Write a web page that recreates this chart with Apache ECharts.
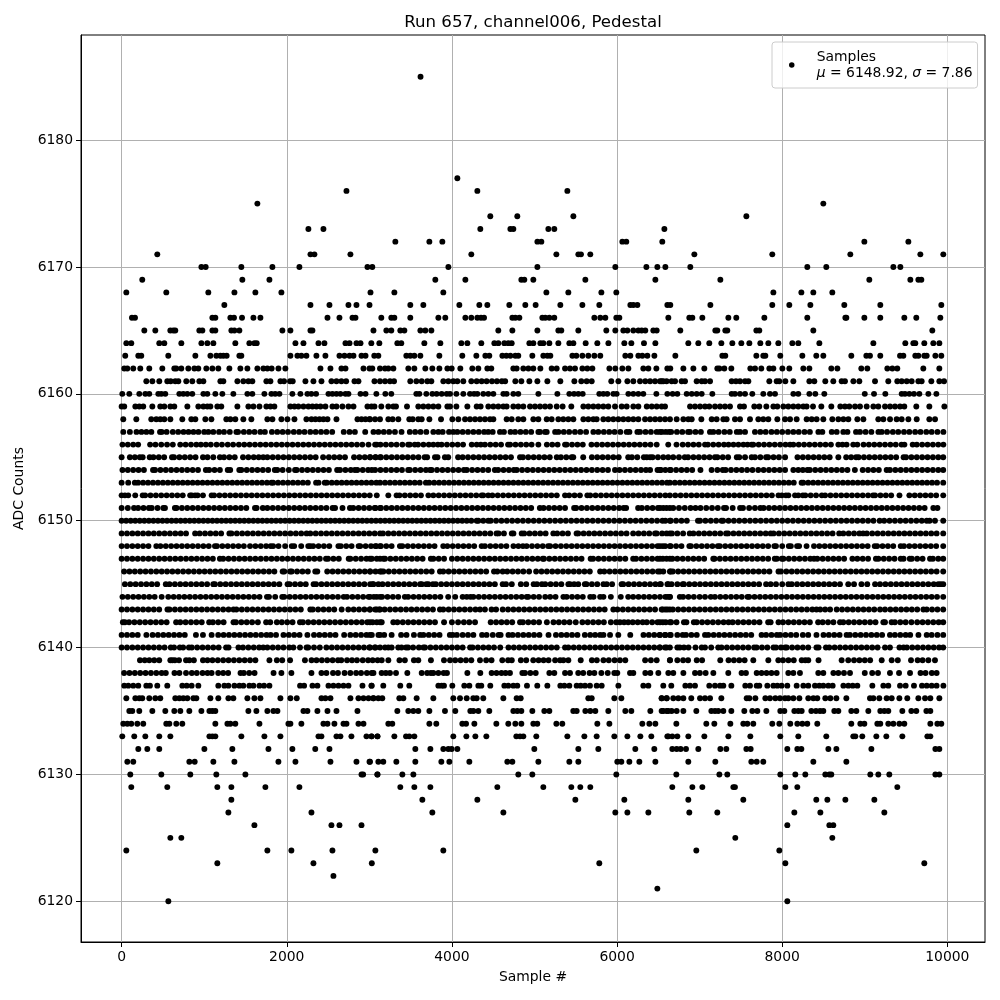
<!DOCTYPE html>
<html><head><meta charset="utf-8"><style>html,body{margin:0;padding:0;background:#fff}#c{width:1000px;height:1000px}</style>
<script src="https://cdn.jsdelivr.net/npm/echarts@6/dist/echarts.min.js"></script></head><body><div id="c"></div><script>
const xTicks=[0,2000,4000,6000,8000,10000];
const yTicks=[6120,6130,6140,6150,6160,6170,6180];
const r6185=[3620];
const r6177=[4066];
const r6176=[2723,4308,5398];
const r6175=[1644,8498];
const r6174=[4465,4792,5471,7566];
const r6173=[2262,2444,4344,4708,4744,5168,5240,6573];
const r6172=[3315,3727,3884,5035,5083,6064,6112,6548,8995,9528];
const r6171=[432,2287,2335,2771,4235,5265,5531,5563,5676,6936,7880,8825,9673,9951];
const r6170=[966,1018,1450,1826,2153,2977,3036,3957,5035,5979,6355,6488,6585,6887,8304,8534,9346,9431];
const r6169=[250,1462,1790,3799,4163,4841,4877,4986,5616,6464,7251,9055,9552,9649,9685];
const r6168=[57,541,1050,1366,1620,1935,3014,3303,3896,5144,5410,5810,5991,7893,8232,8377,8607];
const r6167=[1244,2287,2517,2747,2844,3002,3496,3654,4090,4332,4429,4695,4889,5014,5313,5580,5785,6161,6197,6246,6609,6645,7130,7880,8086,8341,8752,9188,9927];
const r6166=[125,162,1099,1135,1317,1361,1458,1596,1681,2493,2638,2796,2832,3145,3266,3303,3496,3836,3920,4163,4235,4308,4352,4389,4732,4768,4817,5095,5131,5180,5240,5725,5797,5858,5991,6028,6621,6875,6912,7033,7348,7444,7784,8304,8765,8777,8995,9188,9479,9624,9915];
const r6165=[275,408,590,626,650,941,978,1099,1135,1329,1366,1426,1947,2044,2287,2311,3050,3206,3266,3375,3424,3618,3678,3751,4562,4732,5035,5289,5325,5531,5870,5979,6076,6125,6197,6258,6298,6342,6439,6480,6766,7190,7214,7311,7335,7687,7723,8377,9818];
const r6164=[57,117,456,517,723,966,1038,1111,1377,1547,1608,1636,2105,2202,2384,2456,2711,2760,2844,2893,3024,3121,3339,3387,3666,3860,4114,4187,4356,4514,4562,4635,4683,4724,4938,4986,5071,5107,5180,5289,5422,5471,5620,5761,5895,6088,6173,6326,6464,6863,6984,7117,7263,7396,7505,7602,7735,7832,7953,8123,8195,8450,9104,9491,9588,9612,9721,9830,9903];
const r6163=[44,202,238,565,893,1075,1147,1196,1232,1272,1426,1450,2044,2129,2177,2238,2359,2468,2638,2699,2760,2808,2905,2954,3060,3109,3448,3496,3545,3618,3848,4126,4296,4405,4453,4611,4659,4708,4768,4804,4974,5107,5156,5192,5459,5507,5580,5652,5725,5797,6100,6161,6258,6306,6367,6452,6706,7275,7311,7687,7771,7796,7977,8244,8413,8498,8837,9019,9063,9188,9427,9467,9612,9649,9721,9750,9855,9927];
const r6162=[32,69,141,226,335,493,638,662,723,808,881,929,1026,1099,1171,1305,1438,1523,1644,1717,1765,1817,1899,1983,2408,2529,2662,2711,2929,3002,3036,3129,3190,3230,3291,3472,3545,3678,3763,3848,3945,3997,4102,4247,4320,4429,4477,4744,4784,4865,4926,4986,5071,5208,5269,5370,5430,5491,5580,5640,5701,5907,5979,6064,6137,6318,6379,6476,6609,6645,6803,6924,7057,7214,7239,7299,7384,7614,7671,7747,7844,7893,8002,8086,8256,8329,8595,8668,8958,9031,9273,9334,9394,9709,9903];
const r6161=[299,372,456,553,594,650,687,783,856,941,990,1196,1232,1402,1474,1535,1583,1753,1802,1923,1967,2040,2072,2226,2323,2420,2541,2602,2662,2719,2820,2868,3062,3129,3190,3250,3299,3496,3569,3634,3702,3751,3896,3957,4017,4066,4138,4235,4300,4360,4420,4485,4545,4605,4645,4768,4841,4938,5035,5156,5313,5483,5567,5632,5693,5930,6016,6125,6197,6278,6342,6400,6460,6540,6600,6520,6560,6661,6702,6782,6823,6964,7025,7065,7126,7388,7440,7489,7550,7590,7844,7933,7965,8038,8135,8329,8389,8522,8619,8720,8760,8862,8934,9124,9285,9394,9447,9508,9568,9649,9689,9806,9903,9960];
const r6160=[8,93,214,287,335,444,481,529,699,747,796,856,990,1038,1135,1220,1353,1523,1583,1729,1814,1860,1911,2068,2165,2250,2298,2355,2505,2553,2602,2650,2711,2747,2893,2954,3085,3194,3266,3569,3606,3690,3763,3815,3876,3937,3977,4054,4138,4219,4268,4308,4380,4441,4502,4623,4663,4744,4804,5047,5277,5422,5479,5531,5584,5785,5834,5882,5955,5995,6137,6197,6258,6318,6476,6609,6673,6730,6843,6904,6964,7025,7154,7388,7428,7489,7550,7638,7771,7852,7913,8135,8195,8329,8401,8510,9000,9112,9249,9447,9487,9540,9596,9661,9770,9867];
const r6159=[0,32,166,214,262,372,468,517,590,638,796,929,990,1038,1075,1159,1207,1402,1535,1596,1669,1753,1802,1850,2044,2093,2141,2202,2262,2311,2359,2408,2468,2553,2602,2674,2747,2808,2977,3026,3062,3145,3230,3291,3323,3456,3593,3654,3715,3775,3836,3945,3977,4054,4187,4300,4348,4441,4502,4562,4623,4663,4744,4804,4865,4946,5006,5067,5128,5188,5269,5341,5446,5592,5652,5713,5773,5834,5894,5975,6056,6117,6197,6258,6360,6420,6480,6540,6581,6884,6944,7005,7065,7117,7186,7247,7307,7368,7489,7537,7662,7723,7808,7893,7941,8014,8074,8135,8195,8256,8296,8373,8474,8595,8704,8760,8813,8882,8942,9023,9104,9164,9245,9306,9366,9427,9479,9624,9782,9964];
const r6158=[20,178,359,420,468,517,590,735,844,893,1014,1087,1268,1317,1377,1474,1571,1765,1826,1935,2008,2093,2238,2299,2347,2396,2444,2493,2602,2856,2905,2953,3002,3008,3069,3129,3230,3282,3351,3484,3525,3593,3634,3727,3868,4005,4078,4159,4219,4280,4340,4400,4461,4502,4663,4724,4804,4865,4986,5047,5148,5208,5289,5349,5410,5471,5592,5652,5713,5753,5834,5894,5955,6016,6076,6137,6197,6258,6339,6400,6461,6520,6581,6641,6722,6803,6863,6904,7021,7146,7206,7287,7327,7428,7489,7610,7711,7771,7832,7941,8034,8095,8175,8296,8357,8417,8498,8607,8680,8741,8801,8910,8983,9164,9225,9306,9386,9447,9528,9629,9782,9851];
const r6157=[20,100,180,240,300,360,465,485,545,620,685,750,810,870,930,1000,1050,1110,1180,1240,1310,1390,1410,1480,1545,1610,1680,1735,1820,1885,1950,2015,2085,2150,2215,2285,2350,2415,2480,2550,2690,2760,2825,2950,3050,3110,3175,3240,3310,3390,3490,3555,3620,3690,3775,3836,3888,3965,4017,4066,4130,4195,4260,4325,4390,4440,4494,4582,4630,4710,4765,4830,4895,4960,5047,5067,5128,5148,5250,5290,5355,5420,5490,5555,5625,5713,5773,5840,5905,5970,6040,6117,6150,6246,6278,6345,6410,6480,6545,6630,6520,6590,6655,6725,6790,6860,6883,6950,7015,7125,7166,7230,7300,7365,7450,7490,7550,7670,7735,7800,7870,7935,8000,8070,8135,8200,8270,8335,8438,8486,8600,8660,8740,8790,8894,8942,9010,9080,9165,9205,9270,9340,9405,9475,9540,9610,9675,9745,9810,9880,9952];
const r6156=[10,75,140,200,345,410,480,550,620,710,775,840,905,960,1020,1080,1150,1215,1285,1350,1420,1485,1550,1615,1680,1745,1810,1875,1940,2005,2070,2135,2200,2265,2330,2395,2460,2525,2590,2655,2720,2785,2850,2915,2990,3090,3070,3135,3200,3265,3330,3400,3470,3490,3550,3590,3655,3720,3775,3830,3875,3940,4005,4070,4135,4240,4300,4350,4400,4465,4530,4595,4680,4705,4770,4835,4900,4965,5047,5150,5215,5280,5370,5390,5455,5520,5585,5690,5755,5820,5885,5950,6015,6080,6145,6210,6275,6340,6405,6480,6620,6720,6795,6860,6925,6990,7065,7100,7165,7230,7295,7350,7410,7470,7530,7580,7630,7650,7715,7780,7845,7910,7975,8040,8095,8135,8200,8265,8330,8395,8460,8525,8590,8680,8730,8780,8860,8910,8985,9050,9115,9180,9245,9310,9375,9445,9480,9580,9630,9695,9760,9825,9890,9952];
const r6155=[0,100,160,220,255,340,385,450,515,610,635,700,765,830,895,985,1040,1110,1190,1240,1305,1370,1470,1535,1600,1660,1715,1765,1830,1895,1960,2025,2090,2155,2220,2285,2350,2440,2510,2575,2640,2705,2815,2880,2945,3010,3075,3130,3008,3075,3140,3205,3270,3335,3400,3465,3530,3595,3670,3700,3795,3825,3915,3955,4075,4130,4195,4260,4325,4390,4455,4520,4585,4650,4715,4825,4860,4925,4990,5055,5120,5185,5270,5320,5385,5450,5470,5590,5695,5760,5825,5890,5955,6020,6135,6180,6245,6325,6360,6400,6430,6495,6560,6620,6680,6750,6820,6860,6925,6990,7055,7120,7185,7215,7280,7345,7450,7480,7550,7630,7670,7735,7805,7830,7895,7960,8035,8185,8250,8315,8380,8445,8510,8575,8680,8775,8835,8895,8925,8990,9055,9120,9185,9250,9315,9380,9470,9500,9565,9630,9695,9760,9825,9890,9950];
const r6154=[10,75,140,205,270,380,405,470,535,600,665,730,795,860,925,1020,1060,1125,1190,1285,1315,1425,1450,1515,1580,1645,1710,1775,1855,1885,1950,2025,2100,2120,2185,2250,2315,2380,2445,2510,2610,2645,2710,2775,2825,2855,2920,2985,3030,3070,3135,3200,3265,3330,3395,3470,3490,3555,3620,3685,3735,3755,3820,3885,3950,4015,4080,4145,4180,4245,4310,4375,4440,4520,4560,4625,4690,4750,4785,4850,4915,4980,5045,5110,5175,5240,5305,5370,5435,5500,5565,5630,5695,5760,5825,5890,5975,6030,6095,6160,6225,6290,6350,6400,6490,6530,6640,6520,6585,6650,6715,6780,6845,6910,7010,7145,7215,7280,7315,7380,7445,7510,7575,7640,7710,7775,7840,7905,7970,8035,8135,8195,8250,8305,8335,8400,8465,8530,8595,8660,8725,8790,8880,8975,9040,9105,9170,9265,9305,9370,9435,9500,9565,9630,9695,9760,9825,9890,9950];
const r6153=[0,80,160,200,260,320,380,440,500,560,620,680,740,800,860,920,980,1040,1100,1160,1220,1280,1340,1400,1460,1520,1580,1640,1700,1760,1815,1835,1895,1955,2015,2075,2135,2195,2255,2355,2385,2460,2485,2545,2605,2665,2725,2785,2845,2905,2965,3025,3085,3130,3190,3250,3310,3370,3430,3490,3550,3610,3685,3725,3785,3845,3905,3965,4025,4085,4145,4205,4265,4325,4385,4445,4505,4565,4625,4685,4745,4805,4865,4925,4985,5045,5105,5165,5225,5285,5345,5405,5465,5525,5585,5645,5705,5765,5825,5885,5945,6005,6065,6125,6185,6245,6305,6365,6425,6485,6545,6605,6640,6700,6760,6820,6880,6940,7000,7060,7120,7180,7240,7300,7360,7420,7480,7540,7600,7660,7720,7780,7840,7900,7960,8020,8080,8140,8235,8255,8315,8375,8435,8495,8555,8615,8675,8735,8795,8855,8915,8975,9035,9095,9155,9215,9275,9335,9395,9455,9515,9575,9635,9695,9755,9815,9875,9950];
const r6152=[0,40,80,165,255,285,350,415,480,545,610,675,740,830,850,890,920,985,1090,1120,1185,1250,1315,1380,1445,1510,1575,1640,1705,1770,1835,1900,1965,2030,2095,2160,2225,2290,2355,2420,2485,2550,2615,2680,2745,2810,2875,2940,3005,3090,3230,3330,3365,3430,3495,3560,3625,3715,3775,3840,3905,3970,4035,4100,4165,4230,4295,4360,4380,4440,4490,4555,4620,4685,4750,4815,4880,4945,5010,5075,5140,5205,5270,5370,5420,5485,5550,5640,5675,5740,5805,5870,5935,6000,6065,6130,6195,6260,6325,6390,6455,6520,6585,6640,6705,6770,6835,6900,6965,7030,7095,7160,7225,7290,7355,7420,7485,7550,7615,7680,7745,7810,7875,7955,7995,8045,8075,8155,8195,8250,8280,8345,8410,8480,8520,8585,8650,8715,8780,8845,8910,8975,9040,9100,9125,9190,9255,9320,9420,9540,9605,9670,9735,9800,9865,9950];
const r6151=[0,75,150,200,265,330,365,435,505,525,645,665,730,795,860,925,990,1055,1120,1185,1250,1315,1380,1445,1510,1615,1635,1710,1765,1830,1895,1960,2025,2090,2155,2220,2285,2350,2415,2480,2555,2585,2675,2765,2805,2870,2935,3000,3065,3130,3075,3140,3205,3270,3335,3400,3465,3530,3595,3660,3725,3790,3855,3920,3985,4050,4115,4180,4245,4310,4375,4440,4505,4570,4635,4700,4765,4830,4895,4960,5065,5110,5175,5240,5305,5370,5480,5505,5570,5635,5700,5765,5830,5895,5960,6025,6080,6110,6255,6300,6365,6430,6495,6560,6640,6520,6600,6680,6750,6820,6890,6950,7010,7080,7150,7220,7295,7320,7400,7490,7525,7600,7670,7735,7775,7840,7905,7970,8035,8100,8165,8230,8295,8360,8425,8490,8555,8620,8685,8750,8815,8880,8945,9010,9075,9140,9205,9270,9335,9400,9465,9530,9595,9660,9725,9830,9880];
const r6150=[0,55,110,165,220,275,330,385,440,495,550,605,660,715,770,825,880,935,990,1045,1100,1155,1210,1265,1320,1375,1430,1485,1540,1595,1650,1705,1760,1815,1870,1925,1980,2035,2090,2145,2200,2255,2310,2365,2420,2475,2530,2585,2640,2695,2750,2805,2860,2915,2970,3025,3080,3135,3190,3245,3300,3355,3410,3465,3520,3575,3630,3685,3740,3795,3850,3905,3960,4015,4070,4125,4180,4235,4300,4320,4380,4440,4470,4535,4600,4665,4730,4795,4860,4925,4990,5055,5120,5185,5250,5315,5380,5445,5510,5575,5640,5705,5770,5835,5900,5965,6030,6095,6160,6225,6290,6355,6420,6485,6550,6640,6585,6650,6715,6780,6845,6980,7005,7070,7135,7200,7265,7285,7350,7415,7480,7545,7610,7675,7740,7805,7870,7935,8000,8065,8130,8195,8260,8325,8390,8455,8520,8585,8650,8715,8780,8845,8910,8975,9040,9105,9180,9235,9300,9365,9430,9495,9560,9625,9690,9750,9785,9850,9950];
const r6149=[0,65,130,195,260,325,390,455,520,585,650,715,780,890,945,1010,1075,1140,1205,1305,1330,1395,1460,1525,1590,1655,1720,1785,1850,1915,1980,2045,2110,2175,2240,2285,2350,2415,2480,2545,2610,2675,2740,2805,2870,2935,3000,3065,3130,3165,3230,3295,3360,3425,3490,3555,3620,3685,3750,3815,3880,3945,4010,4075,4140,4205,4270,4335,4400,4465,4540,4565,4630,4725,4745,4845,4875,4940,5005,5070,5135,5228,5275,5340,5405,5510,5530,5595,5660,5725,5790,5855,5920,5985,6050,6115,6195,6260,6325,6390,6460,6480,6545,6640,6600,6665,6730,6800,6880,6925,6990,7055,7120,7185,7250,7320,7345,7410,7475,7540,7605,7670,7735,7800,7860,7895,7960,8025,8090,8155,8220,8285,8350,8415,8480,8545,8610,8690,8740,8805,8870,8935,8980,9025,9090,9155,9220,9285,9350,9415,9480,9545,9610,9675,9740,9805,9870,9950];
const r6148=[0,65,130,195,260,325,420,470,535,600,665,730,795,860,925,990,1055,1130,1155,1220,1285,1350,1415,1480,1555,1620,1685,1750,1805,1835,1900,1980,2060,2090,2175,2260,2285,2320,2385,2450,2515,2625,2655,2720,2785,2870,2890,2955,3020,3085,3130,3073,3140,3205,3270,3370,3400,3465,3530,3595,3660,3725,3790,3895,3945,4010,4075,4140,4205,4270,4360,4400,4465,4530,4595,4660,4745,4805,4860,4905,4970,5035,5100,5165,5190,5255,5320,5385,5450,5515,5580,5645,5710,5775,5840,5905,5970,6035,6100,6165,6230,6295,6360,6425,6490,6555,6640,6520,6585,6650,6715,6780,6875,6895,6960,7025,7090,7155,7220,7245,7310,7375,7440,7505,7570,7635,7700,7765,7830,7905,7925,8000,8080,8105,8180,8205,8295,8385,8450,8515,8580,8645,8710,8775,8840,8905,8970,9035,9120,9150,9215,9280,9345,9435,9475,9540,9605,9670,9735,9800,9865,9950];
const r6147=[0,65,130,195,260,325,390,455,520,585,650,715,780,845,910,975,1040,1105,1190,1230,1295,1360,1425,1490,1555,1620,1685,1750,1815,1880,1945,2010,2075,2140,2205,2270,2335,2400,2475,2500,2565,2630,2750,2770,2835,2900,2965,3030,3130,3008,3090,3170,3190,3255,3320,3385,3450,3515,3580,3645,3745,3775,3840,3905,4000,4065,4130,4195,4260,4325,4390,4455,4520,4585,4650,4715,4780,4845,4910,4975,5040,5100,5115,5180,5245,5310,5375,5440,5505,5570,5680,5710,5775,5840,5905,5970,6035,6100,6195,6230,6295,6360,6425,6490,6555,6640,6520,6600,6670,6730,6795,6860,6925,6990,7055,7165,7180,7245,7310,7375,7440,7505,7570,7635,7700,7765,7830,7910,7935,7995,8015,8080,8145,8210,8275,8340,8385,8425,8490,8555,8620,8685,8750,8850,8910,8975,9040,9135,9165,9230,9295,9360,9435,9470,9545,9570,9635,9700,9790,9825,9890,9950];
const r6146=[30,95,160,225,290,355,420,485,550,615,680,745,810,875,940,1005,1070,1135,1200,1265,1330,1395,1460,1525,1590,1655,1720,1785,1850,1950,1970,2040,2060,2125,2190,2255,2345,2370,2490,2555,2620,2685,2750,2815,2880,2945,3010,3075,3130,3008,3145,3170,3235,3300,3365,3430,3495,3560,3625,3690,3755,3855,3895,3960,4025,4090,4155,4220,4285,4350,4415,4510,4550,4615,4670,4735,4800,4865,4935,5020,5085,5150,5215,5280,5345,5410,5475,5540,5605,5670,5795,5845,5910,5975,6040,6105,6170,6235,6300,6365,6430,6495,6560,6640,6520,6650,6675,6740,6805,6870,6935,7000,7065,7130,7195,7260,7325,7390,7455,7520,7585,7650,7715,7780,7845,7955,7985,8050,8115,8180,8245,8310,8375,8440,8505,8570,8635,8700,8765,8830,8895,8960,9025,9090,9155,9220,9285,9350,9415,9480,9545,9610,9675,9740,9805,9870,9950];
const r6145=[40,105,170,235,300,365,430,535,580,645,710,775,840,905,970,1035,1110,1130,1195,1260,1325,1390,1455,1520,1585,1650,1715,1780,1845,1910,2010,2035,2100,2165,2230,2325,2355,2420,2485,2550,2615,2680,2745,2810,2875,2940,3010,3050,3110,3040,3160,3225,3290,3355,3420,3485,3550,3615,3635,3690,3715,3770,3805,3870,3935,4000,4065,4130,4195,4260,4325,4390,4455,4520,4615,4655,4725,4835,4900,4990,5030,5090,5130,5195,5260,5325,5410,5430,5480,5530,5610,5630,5695,5760,5835,5875,5940,6055,6075,6140,6205,6270,6335,6400,6465,6530,6620,6520,6610,6660,6730,6795,6810,6875,6940,7005,7070,7135,7200,7265,7330,7395,7460,7525,7590,7655,7720,7805,7860,7925,8000,8075,8115,8180,8245,8310,8375,8440,8505,8570,8635,8700,8800,8870,8960,9030,9125,9185,9250,9315,9380,9445,9510,9575,9640,9705,9770,9835,9890,9920,9950];
const r6144=[10,75,140,205,270,335,400,485,565,630,695,760,825,890,955,1020,1085,1150,1215,1280,1345,1410,1475,1540,1605,1670,1760,1785,1860,1945,1970,2035,2100,2165,2230,2295,2360,2425,2490,2555,2620,2690,2730,2795,2860,2925,2990,3055,3130,3008,3090,3155,3220,3285,3350,3430,3470,3535,3600,3665,3730,3795,3860,3955,4040,4130,4180,4225,4260,4325,4390,4455,4520,4585,4650,4715,4780,4845,4905,4925,4990,5055,5130,5190,5255,5350,5390,5455,5520,5585,5675,5715,5795,5835,5925,6045,6135,6195,6260,6325,6390,6455,6520,6585,6640,6610,6640,6760,6800,6865,6930,7000,7065,7135,7185,7250,7315,7380,7445,7510,7580,7600,7665,7730,7795,7860,7925,7990,8055,8120,8185,8250,8315,8380,8445,8510,8575,8640,8705,8770,8835,8900,8965,9030,9095,9160,9225,9290,9355,9420,9485,9550,9615,9680,9745,9810,9875,9950];
const r6143=[0,65,130,195,260,325,390,455,555,580,645,710,775,840,905,970,1035,1100,1165,1230,1295,1355,1390,1455,1520,1585,1650,1715,1780,1845,1910,1975,2040,2105,2170,2285,2315,2380,2445,2510,2575,2665,2745,2810,2875,2940,3005,3070,3130,3008,3090,3120,3185,3250,3315,3380,3445,3510,3575,3640,3705,3770,3855,3895,3960,4025,4090,4155,4220,4285,4340,4400,4480,4535,4615,4680,4745,4810,4875,4940,5005,5070,5135,5200,5265,5330,5395,5460,5525,5590,5655,5720,5785,5850,5955,6005,6070,6135,6200,6265,6330,6395,6460,6555,6585,6640,6540,6610,6675,6740,6805,6870,6935,7000,7065,7130,7195,7260,7325,7390,7455,7520,7585,7650,7715,7780,7845,7910,7975,8040,8105,8170,8235,8300,8365,8415,8460,8520,8580,8660,8725,8790,8855,8920,8985,9050,9115,9185,9245,9310,9375,9440,9505,9570,9635,9710,9750,9815,9880,9950];
const r6142=[15,40,90,155,220,285,350,415,480,545,660,710,775,840,905,970,1060,1105,1170,1235,1355,1385,1450,1515,1580,1650,1750,1800,1880,1940,2005,2070,2160,2195,2260,2325,2390,2455,2520,2585,2650,2715,2780,2845,2910,2975,3040,3130,3008,3090,3150,3290,3340,3405,3470,3535,3600,3665,3730,3795,3905,4000,4075,4145,4210,4280,4470,4535,4600,4665,4730,4825,4860,4925,4990,5055,5150,5230,5295,5360,5425,5500,5580,5645,5710,5775,5840,5925,5990,6035,6085,6135,6190,6250,6310,6360,6425,6490,6555,6640,6520,6590,6655,6720,6810,6840,6930,6965,7030,7095,7160,7225,7290,7350,7400,7465,7530,7595,7660,7725,7830,7860,7955,8010,8075,8140,8205,8270,8335,8435,8490,8555,8620,8700,8740,8805,8870,8935,9000,9065,9130,9225,9245,9325,9365,9430,9495,9565,9635,9700,9765,9830,9895,9950];
const r6141=[0,65,130,195,300,375,440,505,570,635,700,765,900,985,1090,1170,1235,1300,1365,1430,1495,1560,1625,1690,1755,1805,1870,1960,2025,2090,2155,2250,2330,2395,2460,2525,2590,2695,2770,2835,2900,2965,3030,3130,3008,3110,3180,3270,3385,3450,3540,3615,3655,3720,3785,3850,3975,4010,4060,4130,4195,4260,4365,4420,4495,4565,4590,4685,4735,4800,4865,4930,4995,5060,5170,5260,5325,5390,5455,5520,5610,5675,5735,5795,5835,5915,6015,6160,6320,6385,6450,6515,6580,6640,6520,6585,6650,6730,6795,6835,6900,6965,7065,7105,7170,7235,7300,7365,7430,7495,7560,7625,7750,7805,7870,7935,7975,8040,8105,8170,8250,8315,8415,8500,8565,8630,8695,8780,8820,8885,8950,9015,9080,9145,9210,9305,9365,9430,9495,9550,9650,9750,9810,9880,9950];
const r6140=[0,65,130,195,260,325,390,455,520,595,635,705,745,815,850,915,980,1045,1110,1175,1265,1295,1415,1470,1535,1600,1665,1715,1765,1830,1895,1960,2030,2080,2160,2240,2260,2330,2400,2480,2545,2610,2675,2740,2805,2870,2935,3000,3065,3130,3008,3075,3190,3230,3270,3350,3390,3445,3470,3530,3600,3655,3675,3740,3805,3870,3935,4000,4065,4130,4220,4250,4315,4380,4445,4510,4585,4685,4750,4815,4880,4945,5010,5075,5140,5205,5270,5370,5410,5475,5540,5605,5670,5735,5800,5865,5930,5995,6060,6125,6190,6255,6320,6385,6450,6515,6580,6640,6520,6600,6730,6760,6810,6865,6950,7025,7065,7140,7225,7265,7330,7395,7460,7525,7590,7660,7690,7755,7820,7895,7925,7985,8035,8055,8120,8185,8250,8315,8415,8440,8530,8570,8635,8700,8765,8830,8895,8960,9025,9090,9155,9245,9305,9420,9470,9510,9575,9640,9705,9770,9835,9900,9950];
const r6139=[222,280,335,395,455,590,615,645,695,780,820,875,985,1040,1100,1165,1230,1295,1360,1425,1490,1555,1620,1790,1880,1945,2040,2220,2300,2360,2425,2490,2555,2620,2660,2730,2790,2850,2920,2985,3040,3100,3150,3230,3365,3430,3540,3593,3746,3904,3977,4040,4105,4170,4235,4340,4415,4480,4610,4680,4725,4835,4900,4985,5050,5110,5170,5250,5310,5350,5410,5560,5695,5755,5835,5900,5970,6035,6100,6340,6410,6480,6640,6641,6730,6800,6860,6965,7030,7250,7350,7415,7480,7545,7650,7832,7953,8010,8075,8140,8236,8280,8316,8440,8720,8800,8870,8935,9000,9065,9205,9326,9400,9560,9640,9700,9770,9850];
const r6138=[30,95,160,225,290,355,420,485,535,640,700,780,850,910,980,1040,1090,1170,1230,1290,1440,1480,1545,1610,1840,1935,2056,2299,2420,2480,2560,2620,2700,2770,2840,2900,2970,3050,3028,3149,3200,3250,3323,3460,3634,3700,3745,3775,3836,3900,3940,4187,4344,4481,4540,4600,4650,4703,4853,4885,4950,5015,5180,5240,5370,5430,5530,5590,5667,5725,5810,5887,5967,6003,6157,6197,6342,6403,6500,6621,6681,6803,6944,7003,7073,7166,7347,7508,7561,7691,7750,7810,7870,7933,8074,8135,8215,8437,8498,8620,8680,8748,8821,9000,9090,9160,9305,9415,9548,9675,9736,9812,9870];
const r6137=[32,81,141,202,299,343,432,553,735,788,848,929,1171,1244,1293,1366,1426,1474,1547,1596,1669,1725,1790,2161,2210,2311,2371,2505,2565,2626,2687,2747,2917,3026,3028,3169,3375,3484,3836,3876,3904,4005,4150,4211,4320,4356,4465,4635,4683,4744,4792,4909,5034,5156,5313,5362,5422,5511,5559,5612,5672,5753,5814,6016,6318,6379,6560,6657,6827,6883,6944,7117,7186,7247,7287,7384,7553,7610,7691,7723,7820,7893,7941,7993,8062,8175,8256,8316,8397,8450,8498,8559,8611,8741,8801,8854,8910,9092,9225,9285,9427,9495,9596,9693,9750,9810,9870,9952];
const r6136=[57,166,214,250,335,408,468,650,699,747,796,869,905,1075,1171,1293,1353,1523,1608,1681,1923,2044,2121,2420,2468,2529,2771,2868,2929,2990,3050,3048,3109,3157,3363,3412,3573,3775,4017,4098,4179,4259,4300,4380,4623,4784,4833,5652,5693,5967,6052,6540,6601,6540,6601,6681,6742,6803,6899,7005,7065,7126,7263,7570,7602,7675,7796,7852,7917,7973,8034,8074,8135,8208,8316,8377,8425,8522,8583,8656,8777,9063,9104,9176,9265,9326,9419,9515,9649,9730,9794,9903];
const r6135=[93,129,214,372,529,638,711,820,966,1063,1099,1135,1535,1632,1765,1838,1887,2202,2250,2371,2493,2602,2856,3339,3472,3533,3593,3727,3916,4041,4223,4260,4320,4453,4744,4792,4841,4974,5119,5180,5470,5511,5616,5676,5737,5894,6100,6173,6403,6560,6621,6540,6601,6661,6722,6803,6960,7142,7186,7226,7287,7384,7541,7638,7699,7808,7977,8026,8147,8195,8236,8353,8409,8458,8498,8631,8680,8837,8898,9043,9188,9237,9285,9455,9564,9624,9746,9794];
const r6134=[20,69,117,190,262,541,578,662,735,1135,1281,1317,1377,1669,2020,2044,2177,2444,2493,2577,2687,2723,2868,2929,3230,3278,3727,3811,4126,4171,4272,4538,4683,4768,4841,4986,5034,5265,5337,5761,5907,6306,6391,6464,6718,7081,7178,7372,7529,7578,7650,7880,7965,8098,8183,8244,8304,8425,8837,8946,8995,9152,9188,9285,9346,9419,9479,9794,9879,9927];
const r6133=[8,153,287,456,590,1063,1099,1135,1450,1729,1923,2384,2420,2602,2650,2783,2965,3026,3099,3028,3097,3303,3444,3484,3545,4017,4175,4284,4417,4780,4825,4865,5022,5398,5604,5753,5967,6125,6282,6415,6609,6621,6669,6730,6863,7057,7348,7614,7977,8195,8534,8861,8886,8970,9140,9261,9455,9758,9794];
const r6132=[202,311,456,1002,1341,1778,2068,2345,2517,3557,3739,3896,3957,3997,4066,4998,5531,5773,6221,6451,6669,6722,6770,6835,6984,7251,7323,7566,7618,8062,8183,8232,8559,8656,9080,9855,9903];
const r6131=[69,141,820,885,1111,1366,1899,2105,2529,2844,3002,3008,3109,3169,3327,3557,3872,3969,4211,4671,4732,5047,5422,5531,6003,6052,6149,6270,6464,6863,7190,7626,7691,7771,8377,8777];
const r6130=[105,481,832,1147,1499,2905,2925,3099,3097,3400,3533,4804,4974,5991,6718,7239,7335,7977,8159,8280,8522,8571,8595,9067,9164,9297,9855,9903];
const r6129=[117,553,1159,1329,1741,2153,3375,3545,3739,4550,5107,5446,5555,5676,6669,6912,7033,7408,7428,8038,8183,9394];
const r6128=[1329,3642,4308,5495,6088,6863,7529,8413,8547,8765,9116];
const r6127=[1293,2299,3763,4623,5979,6125,6379,6875,7214,8147,8462,9237];
const r6126=[1608,2541,2638,2905,8062,8571,8619];
const r6125=[590,723,7432,8607];
const r6124=[57,1765,2056,2553,3073,3896,6960,7965];
const r6123=[1159,2323,3030,5785,8038,9721];
const r6122=[2565];
const r6121=[6488];
const r6120=[566,8062];
const rowTable=[[6185,r6185],[6177,r6177],[6176,r6176],[6175,r6175],[6174,r6174],[6173,r6173],[6172,r6172],[6171,r6171],[6170,r6170],[6169,r6169],[6168,r6168],[6167,r6167],[6166,r6166],[6165,r6165],[6164,r6164],[6163,r6163],[6162,r6162],[6161,r6161],[6160,r6160],[6159,r6159],[6158,r6158],[6157,r6157],[6156,r6156],[6155,r6155],[6154,r6154],[6153,r6153],[6152,r6152],[6151,r6151],[6150,r6150],[6149,r6149],[6148,r6148],[6147,r6147],[6146,r6146],[6145,r6145],[6144,r6144],[6143,r6143],[6142,r6142],[6141,r6141],[6140,r6140],[6139,r6139],[6138,r6138],[6137,r6137],[6136,r6136],[6135,r6135],[6134,r6134],[6133,r6133],[6132,r6132],[6131,r6131],[6130,r6130],[6129,r6129],[6128,r6128],[6127,r6127],[6126,r6126],[6125,r6125],[6124,r6124],[6123,r6123],[6122,r6122],[6121,r6121],[6120,r6120]];
const data=[];
for(const [v,row] of rowTable) for(const s of row) data.push([s,v]);
const font='"DejaVu Sans"';
const plain=v=>String(v);
const chart=echarts.init(document.getElementById('c'),null,{renderer:'canvas'});
chart.setOption({
 animation:false,backgroundColor:'#fff',
 title:{text:'Run 657, channel006, Pedestal',left:528,top:9,textAlign:'center',textStyle:{fontFamily:font,fontSize:16.6,fontWeight:'normal',color:'#000'}},
 grid:{left:81,right:15,top:35,bottom:58,show:true,borderColor:'#000',borderWidth:1,backgroundColor:'transparent'},
 legend:{left:772,top:42,padding:[8,5,8,17],itemWidth:20,itemHeight:5.5,icon:'circle',backgroundColor:'rgba(255,255,255,0.8)',borderColor:'#ccc',borderWidth:1,borderRadius:3,
  data:['Samples'],
  formatter:()=>'{sp| }{a|Samples}\n{sp| }{i|μ}{a| = 6148.92, }{i|σ}{a| = 7.86}',
  textStyle:{rich:{sp:{width:10},a:{fontFamily:font,fontSize:13.9,color:'#000',lineHeight:16},i:{fontFamily:font,fontStyle:'italic',fontSize:13.9,color:'#000',lineHeight:16}}}},
 xAxis:{type:'value',min:-492,max:10456,name:'Sample #',nameLocation:'middle',nameGap:28,nameTextStyle:{fontFamily:font,fontSize:13.9,color:'#000'},
  axisLine:{show:true,onZero:false,lineStyle:{color:'#000'}},
  axisTick:{show:true,length:5,customValues:xTicks,lineStyle:{color:'#000'}},
  axisLabel:{show:true,customValues:xTicks,formatter:plain,margin:8,fontFamily:font,fontSize:13.9,color:'#000'},
  splitLine:{show:true,lineStyle:{color:'#b0b0b0',width:1}}},
 yAxis:{type:'value',min:6116.79,max:6188.29,name:'ADC Counts',nameLocation:'middle',nameGap:47,nameTextStyle:{fontFamily:font,fontSize:13.9,color:'#000'},
  axisLine:{show:true,onZero:false,lineStyle:{color:'#000'}},
  axisTick:{show:true,length:5,customValues:yTicks,lineStyle:{color:'#000'}},
  axisLabel:{show:true,customValues:yTicks,formatter:plain,margin:8,fontFamily:font,fontSize:13.9,color:'#000'},
  splitLine:{show:true,lineStyle:{color:'#b0b0b0',width:1}}},
 series:[{name:'Samples',type:'scatter',symbol:'circle',symbolSize:5.9,itemStyle:{color:'#000',opacity:1},data:data,large:false}]
});
</script></body></html>
